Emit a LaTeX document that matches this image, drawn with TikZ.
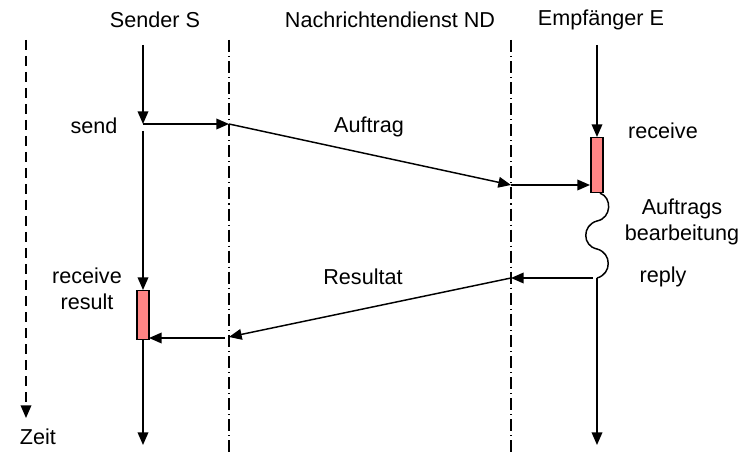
\documentclass[tikz,border=0pt]{standalone}
\usepackage{fontspec}
\setmainfont{Liberation Sans}
\usetikzlibrary{arrows.meta}
\definecolor{actfill}{HTML}{FF8585}
\tikzset{
  lbl/.style={font=\fontsize{16.2}{19.5}\selectfont, inner sep=0pt, align=center},
  msg/.style={line width=1.1pt, -{Triangle[length=9.5pt,width=8pt]}},
  plain/.style={line width=1.1pt},
  channel/.style={line width=0.9pt, dash pattern=on 9pt off 3pt on 0.8pt off 3pt},
  timeax/.style={line width=1pt, dash pattern=on 7.5pt off 4.5pt},
  act/.style={draw, line width=0.9pt, fill=actfill, minimum width=9pt, inner sep=0pt}
}
\begin{document}
\begin{tikzpicture}[x=0.75pt,y=-0.75pt]
\useasboundingbox (0,0) rectangle (746,452);
% labels
\node[lbl] (hS) at (155,20) {Sender S};
\node[lbl] (hND) at (390,20) {Nachrichtendienst ND};
\node[lbl] (hE) at (601,20) {Empfänger E};
\node[lbl] (zeit) at (38,437) {Zeit};
\node[lbl] (send) at (94,126) {send};
\node[lbl] (auftrag) at (369,127) {Auftrag};
\node[lbl] (receive) at (663,131) {receive};
\node[lbl] (bearb) at (682,222) {Auftrags\\bearbeitung};
\node[lbl] (reply) at (663,277) {reply};
\node[lbl] (resultat) at (363,277) {Resultat};
\node[lbl] (recres) at (87,289) {receive\\result};
% activation boxes
\node[act, minimum height=36.75pt, anchor=north] (boxS) at (143,290) {};
\node[act, minimum height=41.25pt, anchor=north] (boxE) at (597,137) {};
% coordinates
\coordinate (tTop) at (26,40);
\coordinate (tBot) at (26,418);
\coordinate (ndTop) at (229,40);
\coordinate (ndBot) at (229,452);
\coordinate (nd2Top) at (511,40);
\coordinate (nd2Bot) at (511,452);
\coordinate (sTop) at (143,45);
\coordinate (sSend) at (143,124);
\coordinate (sResume) at (143,131);
\coordinate (sEnd) at (143,445);
\coordinate (ndIn) at (229,124);
\coordinate (nd2In) at (511,185);
\coordinate (eTop) at (597,45);
\coordinate (eIn) at (590,185);
\coordinate (wBot) at (597,278);
\coordinate (eEnd) at (597,445);
\coordinate (rStart) at (593,278);
\coordinate (nd2Out) at (511,278);
\coordinate (ndOut) at (229,337);
\coordinate (ndOut2) at (225,338);
\coordinate (sIn) at (149,338);
% time axis and channels
\draw[timeax, -{Triangle[length=9.5pt,width=8pt]}] (tTop) -- (tBot);
\draw[channel] (ndTop) -- (ndBot);
\draw[channel] (nd2Top) -- (nd2Bot);
% sender lifeline
\draw[msg] (sTop) -- (sSend);
\draw[msg] (sResume) -- (boxS.north);
\draw[msg] (boxS.south) -- (sEnd);
% receiver lifeline
\draw[msg] (eTop) -- (boxE.north);
\draw[plain] (boxE.south) ++(3,0) .. controls (612,197) and (612,218) .. (597,221)
  .. controls (582,225) and (582,246) .. (597,249)
  .. controls (612,253) and (612,274) .. (wBot);
\draw[msg] (wBot) -- (eEnd);
% messages
\draw[msg] (sSend) -- (ndIn);
\draw[msg] (ndIn) -- (nd2In);
\draw[msg] (nd2In) -- (eIn);
\draw[msg] (rStart) -- (nd2Out);
\draw[msg] (nd2Out) -- (ndOut);
\draw[msg] (ndOut2) -- (sIn);
\end{tikzpicture}
\end{document}
